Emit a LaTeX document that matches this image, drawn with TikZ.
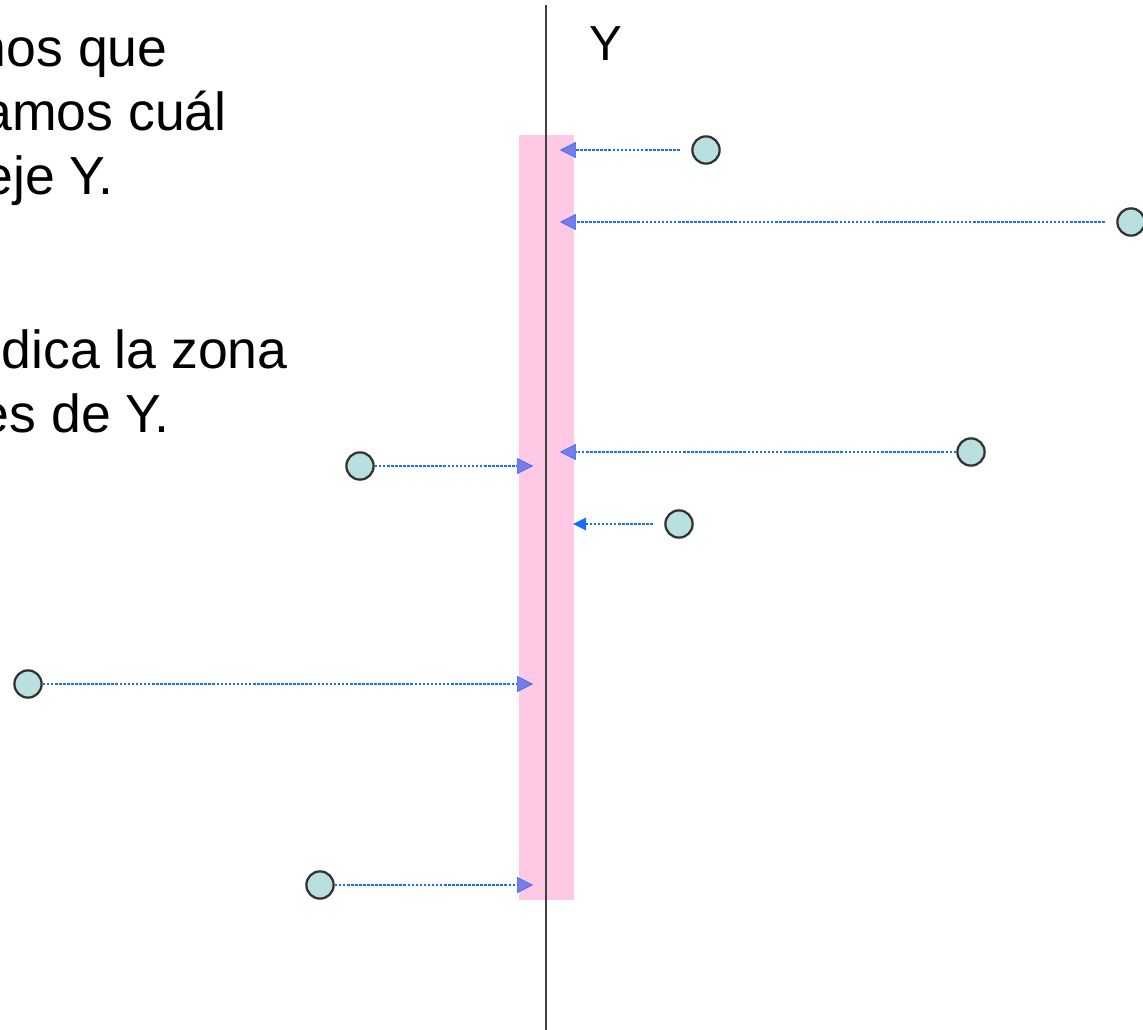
\documentclass[tikz,border=0pt]{standalone}
\usepackage{fontspec}
\setmainfont{Liberation Sans}
\usetikzlibrary{arrows.meta}

\definecolor{zonapink}{HTML}{FFC8E4}
\definecolor{rayblue}{HTML}{1A6CFF}
\definecolor{tipviolet}{HTML}{7B7BE8}
\definecolor{dotfill}{HTML}{B9E0E0}

\tikzset{
  punto/.style={circle, draw=black!80, line width=1.3pt, fill=dotfill,
    minimum size=15.5pt, inner sep=0pt},
  rayo/.style={rayblue, line width=1.5pt, dash pattern=on 1.5pt off 0.8pt,
    -{Triangle[length=9pt,width=9pt,fill=tipviolet,color=rayblue,line width=0.3pt]}},
  rayoazul/.style={rayblue, line width=1.5pt, dash pattern=on 1.5pt off 0.8pt,
    -{Triangle[length=7.5pt,width=7pt,fill=rayblue]}},
  hueco/.style={shorten <=6.5pt},
  texto/.style={anchor=base east, inner sep=0pt, font=\fontsize{30.5}{36}\selectfont}
}

\begin{document}
\begin{tikzpicture}[x=0.02cm,y=-0.02cm]
       \useasboundingbox (0,0) rectangle (1143,1030);
       \clip (0,0) rectangle (1143,1030);
       % zona rosa y eje
       \fill[zonapink] (519,135) rectangle (574,900);
       \coordinate (E1) at (546,5);
       \coordinate (E2) at (546,1030);
       \draw[black!75, line width=0.7pt] (E1) -- (E2);
       \node[anchor=base, inner sep=0pt, font=\fontsize{28}{34}\selectfont] (Y) at (606,61) {Y};
       % texto
       \node[texto] (L1) at (168,67) {nos que};
       \node[texto] (L2) at (227,131) {amos cuál};
       \node[texto] (L3) at (114,195) {eje Y.};
       \node[texto] (L4) at (288,369) {dica la zona};
       \node[texto] (L5) at (170,433) {es de Y.};
       % puntos
       \node[punto] (P1) at (706,150) {};
       \node[punto] (P2) at (1131,222) {};
       \node[punto] (P3) at (971,452) {};
       \node[punto] (P4) at (679,524) {};
       \node[punto] (P5) at (360,466) {};
       \node[punto] (P6) at (28,684) {};
       \node[punto] (P7) at (320,885) {};
       % llegadas al eje
       \coordinate (T1) at (560,150);
       \coordinate (T2) at (560,222);
       \coordinate (T3) at (560,452);
       \coordinate (T4) at (573,524);
       \coordinate (T5) at (533,466);
       \coordinate (T6) at (533,684);
       \coordinate (T7) at (533,885);
       \draw[rayo,hueco] (P1) -- (T1);
       \draw[rayo,hueco] (P2) -- (T2);
       \draw[rayo] (P3) -- (T3);
       \draw[rayoazul,hueco] (P4) -- (T4);
       \draw[rayo] (P5) -- (T5);
       \draw[rayo] (P6) -- (T6);
       \draw[rayo] (P7) -- (T7);
\end{tikzpicture}
\end{document}
